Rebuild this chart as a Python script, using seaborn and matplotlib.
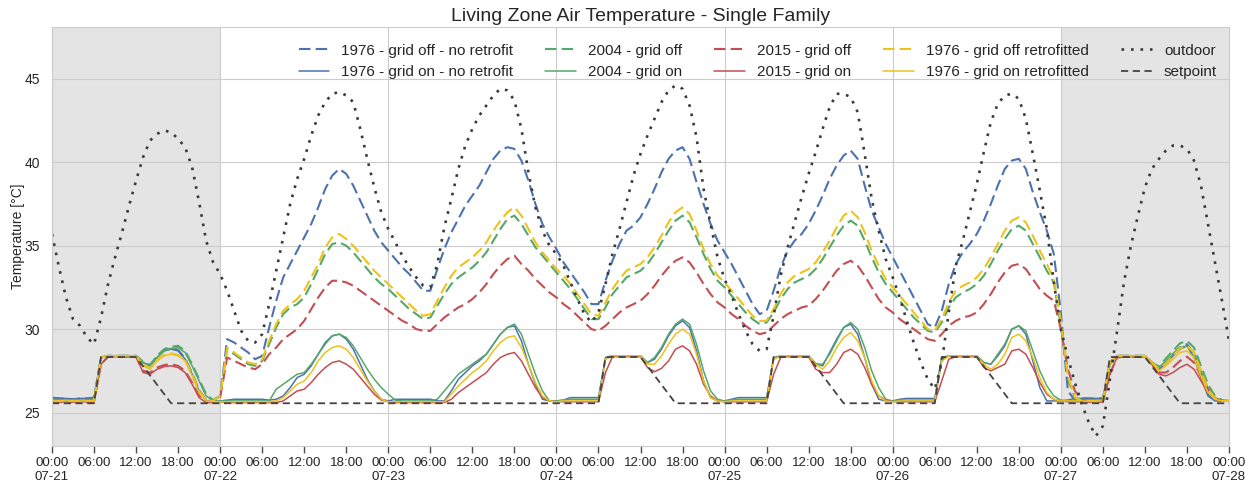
import pandas as pd
import matplotlib
matplotlib.use("Agg")
import matplotlib.pyplot as plt
import matplotlib.dates as mdates
import seaborn as sns

# hourly timestamps 07-21 00:00 ... 07-28 00:00
times = pd.date_range("2017-07-21 00:00", "2017-07-28 00:00", freq="h")

outdoor = [
    35.7, 33.7, 31.9, 30.6, 30.2, 29.5, 29.1, 30.7, 32.7, 34.3, 35.8, 37.4, 38.9, 40.3, 41.3, 41.7, 41.9, 41.8, 41.4, 40.9, 39.7, 37.6, 35.3, 34.0,
    33.3, 32.3, 31.1, 29.9, 29.3, 29.2, 29.7, 31.5, 33.5, 35.5, 37.5, 39.0, 40.2, 41.6, 42.8, 43.6, 44.1, 44.2, 44.0, 43.6, 42.0, 40.2, 38.5, 37.0,
    36.0, 35.2, 34.4, 33.7, 33.1, 32.6, 32.5, 33.9, 36.1, 37.8, 39.6, 41.0, 42.0, 42.8, 43.4, 44.0, 44.4, 44.3, 43.7, 42.0, 39.4, 37.3, 35.9, 35.0,
    34.5, 33.8, 32.8, 31.8, 30.9, 30.4, 31.0, 32.7, 34.5, 36.0, 37.6, 39.2, 40.5, 41.6, 42.6, 43.6, 44.3, 44.6, 44.4, 43.4, 41.5, 38.4, 36.3, 34.3,
    33.0, 32.0, 30.9, 29.9, 29.1, 28.7, 28.8, 30.8, 33.2, 34.9, 36.4, 37.9, 39.3, 40.6, 42.0, 43.3, 44.1, 44.1, 43.9, 43.0, 40.5, 37.8, 35.9, 34.2,
    33.1, 31.9, 30.5, 29.2, 28.0, 27.0, 26.4, 28.0, 31.0, 33.8, 35.3, 37.0, 38.7, 40.6, 42.4, 43.5, 44.0, 44.1, 43.8, 42.6, 40.5, 38.3, 36.0, 32.8,
    30.0, 28.3, 26.8, 25.5, 24.4, 23.6, 24.2, 27.0, 29.8, 32.8, 35.0, 36.8, 38.5, 39.6, 40.2, 40.7, 41.0, 41.0, 40.8, 40.1, 38.6, 36.3, 34.0, 31.7,
    29.3]

setpoint = [
    25.56, 25.56, 25.56, 25.56, 25.56, 25.56, 25.56, 28.33, 28.33, 28.33, 28.33, 28.33, 28.33, 27.78, 27.22, 26.67, 26.11, 25.56, 25.56, 25.56, 25.56, 25.56, 25.56, 25.56,
    25.56, 25.56, 25.56, 25.56, 25.56, 25.56, 25.56, 25.56, 25.56, 25.56, 25.56, 25.56, 25.56, 25.56, 25.56, 25.56, 25.56, 25.56, 25.56, 25.56, 25.56, 25.56, 25.56, 25.56,
    25.56, 25.56, 25.56, 25.56, 25.56, 25.56, 25.56, 25.56, 25.56, 25.56, 25.56, 25.56, 25.56, 25.56, 25.56, 25.56, 25.56, 25.56, 25.56, 25.56, 25.56, 25.56, 25.56, 25.56,
    25.56, 25.56, 25.56, 25.56, 25.56, 25.56, 25.56, 28.33, 28.33, 28.33, 28.33, 28.33, 28.33, 27.78, 27.22, 26.67, 26.11, 25.56, 25.56, 25.56, 25.56, 25.56, 25.56, 25.56,
    25.56, 25.56, 25.56, 25.56, 25.56, 25.56, 25.56, 28.33, 28.33, 28.33, 28.33, 28.33, 28.33, 27.78, 27.22, 26.67, 26.11, 25.56, 25.56, 25.56, 25.56, 25.56, 25.56, 25.56,
    25.56, 25.56, 25.56, 25.56, 25.56, 25.56, 25.56, 28.33, 28.33, 28.33, 28.33, 28.33, 28.33, 27.78, 27.22, 26.67, 26.11, 25.56, 25.56, 25.56, 25.56, 25.56, 25.56, 25.56,
    25.56, 25.56, 25.56, 25.56, 25.56, 25.56, 25.56, 28.33, 28.33, 28.33, 28.33, 28.33, 28.33, 27.78, 27.22, 26.67, 26.11, 25.56, 25.56, 25.56, 25.56, 25.56, 25.56, 25.56,
    25.56]

off_1976 = [
    25.9, 25.85, 25.85, 25.8, 25.85, 25.85, 25.9, 28.3, 28.4, 28.4, 28.4, 28.4, 28.4, 28.0, 27.85, 28.35, 28.75, 28.85, 28.75, 28.25, 27.35, 26.35, 25.75, 25.7,
    26.0, 29.4, 29.2, 28.9, 28.6, 28.2, 28.4, 30.1, 31.7, 33.1, 33.9, 34.7, 35.5, 36.3, 37.3, 38.4, 39.2, 39.6, 39.3, 38.6, 37.7, 36.8, 35.9, 35.2,
    34.7, 34.2, 33.7, 33.3, 32.8, 32.3, 32.3, 33.6, 34.8, 35.8, 36.6, 37.4, 38.0, 38.6, 39.4, 40.2, 40.7, 40.9, 40.8, 40.1, 38.9, 37.5, 36.3, 35.5,
    34.8, 34.0, 33.4, 32.8, 32.2, 31.5, 31.5, 32.9, 34.1, 35.1, 35.9, 36.2, 36.7, 37.5, 38.4, 39.4, 40.2, 40.7, 40.9, 40.2, 38.8, 37.5, 36.3, 35.3,
    34.6, 33.9, 33.1, 32.3, 31.5, 30.9, 31.1, 32.3, 33.7, 34.7, 35.3, 35.7, 36.3, 37.1, 38.0, 39.0, 39.8, 40.4, 40.7, 40.2, 38.6, 37.1, 36.1, 35.1,
    34.3, 33.5, 32.7, 31.9, 31.1, 30.3, 30.1, 31.1, 32.7, 33.9, 34.6, 35.1, 35.7, 36.5, 37.5, 38.6, 39.6, 40.1, 40.2, 39.6, 38.2, 37.0, 35.9, 34.5,
    31.0, 26.3, 25.75, 25.85, 25.85, 25.85, 25.85, 28.0, 28.4, 28.4, 28.4, 28.4, 28.4, 28.0, 27.65, 28.0, 28.5, 28.9, 29.1, 28.5, 27.3, 26.1, 25.75, 25.7,
    25.7]

on_1976 = [
    25.9, 25.85, 25.85, 25.8, 25.85, 25.85, 25.9, 28.3, 28.4, 28.4, 28.4, 28.4, 28.4, 28.0, 27.8, 28.3, 28.7, 28.8, 28.7, 28.2, 27.3, 26.3, 25.7, 25.65,
    25.7, 25.75, 25.8, 25.8, 25.8, 25.8, 25.8, 25.75, 25.8, 26.0, 26.5, 27.1, 27.3, 27.8, 28.5, 29.2, 29.6, 29.7, 29.4, 28.8, 27.9, 27.0, 26.3, 25.8,
    25.7, 25.8, 25.8, 25.8, 25.8, 25.8, 25.8, 25.7, 25.7, 26.3, 27.0, 27.4, 27.8, 28.1, 28.5, 29.1, 29.7, 30.1, 30.2, 29.3, 27.9, 26.7, 25.8, 25.7,
    25.7, 25.75, 25.9, 25.9, 25.9, 25.9, 25.9, 28.3, 28.4, 28.4, 28.4, 28.4, 28.4, 28.0, 28.2, 28.8, 29.6, 30.2, 30.5, 30.1, 28.7, 26.9, 25.9, 25.7,
    25.7, 25.8, 25.9, 25.9, 25.9, 25.9, 25.9, 28.3, 28.4, 28.4, 28.4, 28.4, 28.4, 27.95, 27.8, 28.6, 29.4, 30.1, 30.3, 29.7, 28.3, 26.7, 25.8, 25.7,
    25.7, 25.8, 25.85, 25.85, 25.85, 25.85, 25.85, 28.3, 28.4, 28.4, 28.4, 28.4, 28.4, 28.0, 27.9, 28.4, 29.0, 30.0, 30.2, 29.7, 28.1, 26.5, 25.7, 25.7,
    25.7, 25.75, 25.85, 25.85, 25.85, 25.85, 25.85, 28.0, 28.4, 28.4, 28.4, 28.4, 28.4, 28.0, 27.6, 27.9, 28.4, 28.8, 29.0, 28.3, 27.1, 26.0, 25.7, 25.7,
    25.7]

off_2004 = [
    25.8, 25.75, 25.75, 25.75, 25.75, 25.75, 25.8, 28.3, 28.4, 28.4, 28.4, 28.4, 28.4, 28.05, 27.85, 28.4, 28.8, 28.95, 29.0, 28.7, 27.9, 27.0, 26.1, 25.75,
    26.0, 28.8, 28.5, 28.2, 27.9, 27.8, 28.1, 29.1, 30.1, 30.9, 31.3, 31.5, 31.9, 32.7, 33.6, 34.5, 35.1, 35.2, 35.0, 34.6, 34.1, 33.6, 33.1, 32.7,
    32.4, 32.0, 31.6, 31.2, 30.9, 30.6, 30.7, 31.4, 32.1, 32.7, 33.1, 33.4, 33.7, 34.1, 34.6, 35.3, 36.0, 36.6, 36.8, 36.3, 35.6, 34.9, 34.4, 33.9,
    33.4, 32.9, 32.4, 31.8, 31.2, 30.6, 30.6, 31.3, 32.1, 32.6, 33.1, 33.3, 33.5, 33.9, 34.5, 35.2, 35.9, 36.5, 36.8, 36.4, 35.5, 34.5, 33.6, 32.9,
    32.5, 32.0, 31.5, 31.0, 30.6, 30.3, 30.4, 31.0, 31.8, 32.4, 32.8, 33.0, 33.2, 33.6, 34.2, 34.9, 35.6, 36.2, 36.5, 36.2, 35.3, 34.3, 33.4, 32.7,
    32.2, 31.7, 31.2, 30.7, 30.3, 29.9, 29.8, 30.4, 31.3, 31.9, 32.2, 32.4, 32.7, 33.2, 33.9, 34.7, 35.4, 36.0, 36.2, 35.9, 35.1, 34.3, 33.5, 32.8,
    30.2, 27.0, 25.9, 25.75, 25.75, 25.75, 25.75, 27.9, 28.4, 28.4, 28.4, 28.4, 28.4, 28.0, 27.75, 28.25, 28.7, 29.15, 29.3, 28.9, 27.8, 26.7, 26.0, 25.75,
    25.7]

on_2004 = [
    25.8, 25.75, 25.75, 25.75, 25.75, 25.75, 25.8, 28.3, 28.4, 28.4, 28.4, 28.4, 28.4, 28.0, 27.8, 28.3, 28.7, 28.85, 28.9, 28.6, 27.8, 26.9, 26.0, 25.7,
    25.7, 25.7, 25.7, 25.7, 25.7, 25.7, 25.7, 25.7, 26.4, 26.7, 27.0, 27.3, 27.4, 27.9, 28.5, 29.1, 29.6, 29.7, 29.5, 29.0, 28.3, 27.6, 27.0, 26.5,
    26.1, 25.75, 25.7, 25.7, 25.7, 25.7, 25.7, 25.8, 26.3, 26.8, 27.3, 27.6, 27.9, 28.2, 28.5, 29.1, 29.7, 30.1, 30.3, 29.7, 28.5, 27.3, 26.3, 25.7,
    25.7, 25.75, 25.8, 25.8, 25.8, 25.8, 25.8, 28.2, 28.4, 28.4, 28.4, 28.4, 28.4, 28.0, 28.3, 28.9, 29.7, 30.3, 30.6, 30.3, 29.1, 27.5, 26.3, 25.8,
    25.7, 25.75, 25.8, 25.8, 25.8, 25.8, 25.8, 28.2, 28.4, 28.4, 28.4, 28.4, 28.4, 27.9, 27.9, 28.5, 29.3, 30.1, 30.4, 30.0, 28.9, 27.5, 26.5, 25.8,
    25.7, 25.75, 25.75, 25.75, 25.75, 25.75, 25.75, 28.1, 28.4, 28.4, 28.4, 28.4, 28.4, 28.0, 27.9, 28.5, 29.1, 30.0, 30.2, 29.9, 28.7, 27.5, 26.6, 26.0,
    25.75, 25.7, 25.75, 25.75, 25.75, 25.75, 25.75, 27.9, 28.4, 28.4, 28.4, 28.4, 28.4, 28.0, 27.7, 28.1, 28.5, 28.9, 29.0, 28.6, 27.5, 26.5, 25.9, 25.7,
    25.7]

off_2015 = [
    25.65, 25.65, 25.65, 25.65, 25.65, 25.65, 25.65, 27.9, 28.35, 28.35, 28.35, 28.35, 28.35, 27.5, 27.4, 27.7, 27.85, 27.9, 27.8, 27.5, 26.8, 26.0, 25.65, 25.65,
    25.9, 28.3, 28.1, 27.9, 27.7, 27.6, 27.9, 28.5, 28.9, 29.4, 29.7, 30.0, 30.5, 31.2, 31.9, 32.5, 32.9, 32.9, 32.8, 32.6, 32.3, 32.0, 31.7, 31.4,
    31.1, 30.8, 30.5, 30.3, 30.0, 29.9, 29.9, 30.3, 30.7, 31.0, 31.3, 31.5, 31.8, 32.2, 32.7, 33.3, 33.8, 34.2, 34.4, 33.9, 33.5, 33.0, 32.6, 32.2,
    31.9, 31.5, 31.2, 30.8, 30.4, 30.0, 29.9, 30.2, 30.6, 31.0, 31.3, 31.5, 31.7, 32.1, 32.6, 33.2, 33.7, 34.1, 34.3, 34.0, 33.4, 32.7, 32.1, 31.6,
    31.3, 30.9, 30.6, 30.2, 29.9, 29.7, 29.8, 30.2, 30.6, 30.9, 31.1, 31.3, 31.4, 31.8, 32.3, 32.9, 33.5, 33.9, 34.1, 33.8, 33.2, 32.5, 31.8, 31.3,
    31.0, 30.6, 30.3, 30.0, 29.7, 29.4, 29.3, 29.7, 30.2, 30.5, 30.7, 30.8, 31.0, 31.5, 32.1, 32.8, 33.4, 33.8, 33.9, 33.6, 33.0, 32.4, 32.0, 31.7,
    30.0, 27.6, 26.3, 25.75, 25.65, 25.65, 25.65, 27.3, 28.3, 28.35, 28.35, 28.35, 28.35, 27.9, 27.4, 27.4, 27.7, 28.1, 28.35, 28.0, 27.2, 26.4, 25.85, 25.7,
    25.7]

on_2015 = [
    25.65, 25.65, 25.65, 25.65, 25.65, 25.65, 25.65, 27.9, 28.35, 28.35, 28.35, 28.35, 28.35, 27.4, 27.3, 27.6, 27.75, 27.8, 27.7, 27.4, 26.7, 25.9, 25.6, 25.6,
    25.65, 25.6, 25.6, 25.6, 25.6, 25.6, 25.6, 25.6, 25.6, 25.7, 26.0, 26.3, 26.4, 26.8, 27.3, 27.7, 28.0, 28.1, 27.9, 27.6, 27.1, 26.6, 26.1, 25.75,
    25.65, 25.6, 25.6, 25.6, 25.6, 25.6, 25.6, 25.6, 25.6, 25.8, 26.2, 26.5, 26.8, 27.1, 27.4, 27.9, 28.3, 28.5, 28.6, 28.1, 27.3, 26.5, 25.9, 25.7,
    25.65, 25.65, 25.65, 25.65, 25.65, 25.65, 25.65, 27.4, 28.35, 28.35, 28.35, 28.35, 28.35, 27.7, 27.45, 27.65, 28.1, 28.8, 29.0, 28.7, 27.9, 26.7, 26.0, 25.7,
    25.65, 25.65, 25.65, 25.65, 25.65, 25.65, 25.65, 27.3, 28.3, 28.35, 28.35, 28.35, 28.35, 27.6, 27.4, 27.4, 27.9, 28.6, 28.8, 28.5, 27.7, 26.7, 26.0, 25.75,
    25.65, 25.65, 25.65, 25.65, 25.65, 25.65, 25.65, 26.9, 28.2, 28.35, 28.35, 28.35, 28.35, 27.7, 27.5, 27.7, 27.9, 28.7, 28.8, 28.5, 27.7, 26.8, 26.1, 25.8,
    25.7, 25.65, 25.65, 25.65, 25.65, 25.65, 25.65, 27.3, 28.3, 28.35, 28.35, 28.35, 28.35, 27.9, 27.3, 27.2, 27.4, 27.7, 27.9, 27.6, 26.9, 26.2, 25.8, 25.7,
    25.7]

off_1976_retro = [
    25.7, 25.7, 25.7, 25.7, 25.7, 25.7, 25.7, 28.3, 28.4, 28.4, 28.4, 28.4, 28.4, 27.85, 27.65, 28.15, 28.45, 28.55, 28.45, 28.15, 27.3, 26.3, 25.75, 25.7,
    26.0, 28.9, 28.6, 28.3, 28.0, 27.9, 28.2, 29.3, 30.3, 31.1, 31.5, 31.8, 32.3, 33.1, 33.9, 34.9, 35.5, 35.7, 35.4, 35.0, 34.5, 34.0, 33.5, 33.1,
    32.7, 32.3, 31.9, 31.5, 31.1, 30.8, 30.9, 31.7, 32.5, 33.2, 33.7, 34.0, 34.3, 34.7, 35.2, 35.9, 36.5, 37.0, 37.3, 36.8, 36.0, 35.2, 34.6, 34.1,
    33.6, 33.2, 32.7, 32.1, 31.5, 30.9, 30.8, 31.6, 32.4, 33.0, 33.5, 33.7, 33.9, 34.3, 34.9, 35.6, 36.4, 37.0, 37.3, 36.9, 35.9, 34.8, 33.9, 33.2,
    32.8, 32.3, 31.8, 31.3, 30.8, 30.5, 30.5, 31.2, 32.1, 32.8, 33.2, 33.4, 33.6, 34.0, 34.6, 35.3, 36.1, 36.8, 37.1, 36.7, 35.8, 34.7, 33.8, 33.0,
    32.5, 32.0, 31.5, 31.0, 30.5, 30.0, 29.9, 30.6, 31.6, 32.3, 32.6, 32.8, 33.1, 33.6, 34.3, 35.1, 35.9, 36.5, 36.7, 36.4, 35.6, 34.7, 33.9, 33.0,
    30.5, 27.2, 25.9, 25.7, 25.7, 25.7, 25.7, 28.0, 28.4, 28.4, 28.4, 28.4, 28.4, 28.0, 27.6, 27.95, 28.4, 28.85, 29.0, 28.6, 27.5, 26.4, 25.85, 25.7,
    25.7]

on_1976_retro = [
    25.7, 25.7, 25.7, 25.7, 25.7, 25.7, 25.7, 28.3, 28.4, 28.4, 28.4, 28.4, 28.4, 27.8, 27.6, 28.1, 28.4, 28.5, 28.4, 28.1, 27.2, 26.2, 25.7, 25.65,
    25.65, 25.65, 25.65, 25.65, 25.65, 25.65, 25.65, 25.65, 25.7, 25.9, 26.3, 26.7, 26.9, 27.4, 28.1, 28.6, 28.9, 29.0, 28.8, 28.3, 27.6, 26.9, 26.3, 25.8,
    25.65, 25.65, 25.65, 25.65, 25.65, 25.65, 25.65, 25.65, 25.65, 26.1, 26.6, 27.0, 27.4, 27.7, 28.1, 28.7, 29.2, 29.5, 29.6, 28.9, 27.9, 26.8, 26.0, 25.7,
    25.65, 25.7, 25.7, 25.7, 25.7, 25.7, 25.7, 28.2, 28.4, 28.4, 28.4, 28.4, 28.4, 27.9, 27.9, 28.4, 29.1, 29.7, 30.0, 29.7, 28.5, 26.9, 25.9, 25.7,
    25.65, 25.7, 25.7, 25.7, 25.7, 25.7, 25.7, 28.2, 28.4, 28.4, 28.4, 28.4, 28.4, 27.9, 27.6, 28.1, 28.9, 29.5, 29.8, 29.3, 28.3, 26.9, 26.0, 25.7,
    25.65, 25.7, 25.7, 25.7, 25.7, 25.7, 25.7, 28.1, 28.4, 28.4, 28.4, 28.4, 28.4, 27.9, 27.6, 27.9, 28.5, 29.5, 29.7, 29.3, 28.3, 27.1, 26.2, 25.8,
    25.7, 25.7, 25.7, 25.7, 25.7, 25.7, 25.7, 28.0, 28.4, 28.4, 28.4, 28.4, 28.4, 28.0, 27.5, 27.8, 28.2, 28.6, 28.7, 28.3, 27.2, 26.2, 25.8, 25.7,
    25.7]

labels = [
    "1976 - grid off - no retrofit", "1976 - grid on - no retrofit",
    "2004 - grid off", "2004 - grid on",
    "2015 - grid off", "2015 - grid on",
    "1976 - grid off retrofitted", "1976 - grid on retrofitted",
    "outdoor", "setpoint",
]

for arr in [outdoor, setpoint, off_1976, on_1976, off_2004, on_2004,
            off_2015, on_2015, off_1976_retro, on_1976_retro]:
    assert len(arr) == len(times), len(arr)

sns.set_style("whitegrid")
plt.rcParams["font.family"] = ["Liberation Sans", "DejaVu Sans"]

BLUE, GREEN, RED, YELLOW = "#4C72B0", "#55A868", "#C44E52", "#EDC21B"
DASH = (0, (5.5, 2.5))
styles = [
    (off_1976, BLUE, DASH, 1.5),
    (on_1976, BLUE, "-", 1.1),
    (off_2004, GREEN, DASH, 1.5),
    (on_2004, GREEN, "-", 1.1),
    (off_2015, RED, DASH, 1.5),
    (on_2015, RED, "-", 1.1),
    (off_1976_retro, YELLOW, DASH, 1.5),
    (on_1976_retro, YELLOW, "-", 1.1),
    (outdoor, "#3a3a3a", (0, (1, 2.6)), 1.9),
    (setpoint, "#444444", (0, (4, 2.5)), 1.3),
]

fig = plt.figure(figsize=(12.55, 4.86), dpi=100)
ax = fig.add_axes([52 / 1255, 1 - 446 / 486, (1229 - 52) / 1255, (446 - 27) / 486])

ax.axvspan(times[0], times[24], color="#e4e4e4", lw=0, zorder=0)
ax.axvspan(times[144], times[168], color="#e4e4e4", lw=0, zorder=0)

handles = []
for (vals, col, ls, lw), lab in zip(styles, labels):
    n = len(ax.lines)
    sns.lineplot(x=times, y=vals, ax=ax, color=col, linestyle=ls, linewidth=lw, legend=False)
    handles.append(ax.lines[n])

ax.set_xlim(times[0], times[-1])
ax.set_ylim(23, 48.1)
ax.set_yticks([25, 30, 35, 40, 45])

ax.xaxis.set_major_locator(mdates.DayLocator())
ax.xaxis.set_major_formatter(mdates.DateFormatter("%H:%M\n%m-%d"))
ax.xaxis.set_minor_locator(mdates.HourLocator(byhour=[6, 12, 18]))
ax.xaxis.set_minor_formatter(mdates.DateFormatter("%H:%M"))
ax.tick_params(axis="x", which="both", bottom=True, length=5, width=1,
               color="0.3", labelsize=9.6, labelcolor=".15", pad=3)
ax.tick_params(axis="y", labelsize=10, labelcolor=".15", pad=5)
ax.grid(which="minor", visible=False)
for lab in ax.xaxis.get_majorticklabels():
    lab.set_linespacing(1.2)

ax.set_xlabel("")
ax.set_ylabel("Temperature [°C]", fontsize=10, color=".15", labelpad=0)
ax.set_title("Living Zone Air Temperature - Single Family", fontsize=14, color=".15", pad=4)

ax.legend(handles, labels, ncol=5, loc="upper right", bbox_to_anchor=(0.995, 0.975),
          frameon=False, fontsize=11, handlelength=2.0, handletextpad=0.8,
          columnspacing=2.1, labelspacing=0.5, borderaxespad=0)

fig.savefig("out.png", dpi=100)
